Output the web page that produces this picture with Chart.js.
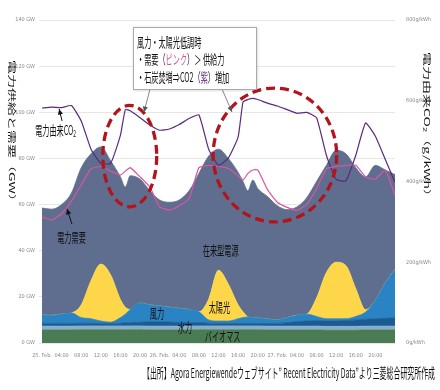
<!DOCTYPE html>
<html>
<head>
<meta charset="utf-8">
<script src="https://cdn.jsdelivr.net/npm/chart.js@4.4.0/dist/chart.umd.min.js"></script>
<style>
html,body{margin:0;padding:0;background:#fff;}
canvas{display:block;}
</style>
</head>
<body>
<canvas id="grafica" width="440" height="390"></canvas>
<script>
// horas desde 25. Feb. 00:00
const horas = [0,2,4,6,8,10,12,14,16,17,18,20,22,24,26,28,30,32,34,36,38,40,41,42,43,44,46,48,50,52,54,56,58,60,62,64,66,68,70,72];

// GW
const biomasa = [5.6,5.6,5.6,5.6,5.7,5.7,5.7,5.7,5.7,5.7,5.7,5.7,5.6,5.6,5.6,5.6,5.6,5.7,5.7,5.7,5.7,5.7,5.7,5.7,5.7,5.7,5.6,5.6,5.6,5.6,5.6,5.6,5.5,5.5,5.5,5.5,5.6,5.6,5.6,5.6];
const hidro = [1.7,1.7,1.7,1.7,1.7,1.7,1.7,1.7,1.7,1.7,1.7,1.7,1.7,1.7,1.7,1.7,1.7,1.7,1.7,1.7,1.7,1.7,1.7,1.7,1.7,1.7,1.7,1.7,1.7,1.7,1.7,1.7,1.7,1.7,1.7,1.7,1.7,1.7,1.7,1.7];
const eolicoMar = [1.2,1.2,1.2,1.2,1.2,1.2,1.1,1.1,1.2,1.3,1.4,1.6,1.8,1.8,1.8,1.6,1.5,1.4,1.2,1.1,1.1,1.1,1.1,1.1,1.1,1.1,1.1,1.2,1.5,2.0,2.2,2.4,2.4,2.4,2.5,2.8,3.0,3.2,3.4,3.5];
const eolico = [3.6,3.5,4.0,4.5,2.4,1.9,1.0,0.5,2.4,3.8,5.7,8.3,7.4,6.9,6.4,6.1,5.7,4.7,1.4,1.0,1.0,2.0,2.5,2.8,2.5,2.3,2.0,1.5,2.2,2.7,3.0,1.8,0.9,0.9,0.8,1.5,3.1,8.1,15.3,21.2];
const solar = [0,0,0,0,5.5,16.5,24.7,20.5,7.8,3,0,0,0,0,0,0,0,0,9,22,16,6,2.5,0,0,0,0,0,0,0,0,8,20,24.5,23,12,1,0,0,0];
const convencional = [46.4,46,47.5,52,59.5,55,50.8,49.5,53.2,52.1,58,53.7,49.5,46,45.5,47,51.5,60,62,52.5,54.5,57.5,56.5,54.7,59.6,56.2,53.1,49.5,46.8,47,50.5,50.5,46.5,48.5,48.5,52.5,57.6,58.4,49,41];
const demanda = [54.6,53.3,56,61.5,68.5,75.5,76.5,74.5,72.8,74.5,76,72,67.6,59,57.6,59.5,62.5,76,77,76.5,75.7,72.5,70.6,73.5,75,75,66.5,61,58.8,57.6,60,67,75.5,76.5,77,77,72,71,75,64];
// g/kWh
const co2 = [582,584,583,588,550,480,445,445,515,578,575,558,540,527,530,541,556,565,480,440,458,510,597,603,606,603,594,587,578,569,571,558,465,405,402,465,545,512,455,398];

const etiquetasX = ['25. Feb.','04:00','08:00','12:00','16:00','20:00','26. Feb.','04:00','08:00','12:00','16:00','20:00','27. Feb.','04:00','08:00','12:00','16:00','20:00',''];

const JP = '"Noto Sans CJK JP", "Noto Sans CJK SC", sans-serif';
const NARROW = '"Liberation Sans Narrow", "DejaVu Sans Condensed", "Liberation Sans", sans-serif';
const SX = 0.55;

// etiquetas dentro del grafico (horas, GW)
const etiquetas = [
    {t:'電力需要', h:3.1, gw:46},
    {t:'在来型電源', h:32.8, gw:40.3},
    {t:'太陽光', h:34, gw:15.6},
    {t:'風力', h:22, gw:13},
    {t:'水力', h:27.7, gw:6.9},
    {t:'バイオマス', h:33.2, gw:3}
];
const elipses = [
    {h:17.9, gw:81, dh:5.5, dgw:22},
    {h:47.5, gw:81.5, dh:12.6, dgw:29}
];

function texto(ctx, str, x, y, size, color, sx){
    ctx.save();
    ctx.translate(x, y);
    ctx.scale(sx, 1);
    ctx.font = size + 'px ' + JP;
    ctx.fillStyle = color;
    ctx.textBaseline = 'middle';
    ctx.textAlign = 'left';
    ctx.fillText(str, 0, 0);
    const w = ctx.measureText(str).width * sx;
    ctx.restore();
    return w;
}

function flecha(ctx, x1, y1, x2, y2, color, punta){
    ctx.save();
    ctx.strokeStyle = color;
    ctx.lineWidth = 1;
    ctx.beginPath();
    ctx.moveTo(x1, y1);
    ctx.lineTo(x2, y2);
    ctx.stroke();
    const a = Math.atan2(y2 - y1, x2 - x1);
    ctx.fillStyle = punta;
    ctx.beginPath();
    ctx.moveTo(x2, y2);
    ctx.lineTo(x2 - 6*Math.cos(a - 0.45), y2 - 6*Math.sin(a - 0.45));
    ctx.lineTo(x2 - 6*Math.cos(a + 0.45), y2 - 6*Math.sin(a + 0.45));
    ctx.closePath();
    ctx.fill();
    ctx.restore();
}

const anotaciones = {
    id: 'anotaciones',
    afterDatasetsDraw(chart){
        const ctx = chart.ctx;
        const px = h => chart.scales.x.getPixelForValue(h);
        const py = g => chart.scales.y.getPixelForValue(g);

        etiquetas.forEach(e => texto(ctx, e.t, px(e.h), py(e.gw), 13, '#111', SX));

        // 電力由来CO2
        let w = texto(ctx, '電力由来CO', px(-1.4), py(92.3), 13, '#111', SX);
        texto(ctx, '2', px(-1.4) + w, py(92.3) + 4, 9, '#111', SX);
        flecha(ctx, px(4.1), py(96.2), px(3.5), py(101.4), '#111', '#111');
        flecha(ctx, px(6.1), py(51.6), px(5.1), py(58.1), '#111', '#111');

        // elipses punteadas
        ctx.save();
        ctx.strokeStyle = '#b3141c';
        ctx.lineWidth = 3.3;
        ctx.setLineDash([9, 5]);
        elipses.forEach(e => {
            const cx = px(e.h), cy = py(e.gw);
            ctx.beginPath();
            ctx.ellipse(cx, cy, px(e.h + e.dh) - cx, cy - py(e.gw + e.dgw), 0, 0, 2*Math.PI);
            ctx.stroke();
        });
        ctx.restore();

        // caja de comentario
        flecha(ctx, 150, 89, 144, 112, '#888', '#555');
        flecha(ctx, 222, 89, 232, 112, '#888', '#555');
        ctx.save();
        ctx.shadowColor = 'rgba(0,0,0,0.25)';
        ctx.shadowBlur = 3;
        ctx.shadowOffsetX = 1;
        ctx.shadowOffsetY = 1;
        ctx.fillStyle = '#fff';
        ctx.fillRect(133, 27, 123, 62);
        ctx.restore();
        ctx.strokeStyle = '#aaa';
        ctx.lineWidth = 1;
        ctx.strokeRect(133.5, 27.5, 123, 62);

        texto(ctx, '風力・太陽光低調時', 137, 42, 13, '#111', SX);
        let x = 137;
        x += texto(ctx, '・需要（', x, 59, 13, '#111', SX);
        x += texto(ctx, 'ピンク', x, 59, 13, '#d9559f', SX);
        texto(ctx, '）＞ 供給力', x, 59, 13, '#111', SX);
        x = 137;
        x += texto(ctx, '・石炭焚増⇒CO2（', x, 77, 13, '#111', SX);
        x += texto(ctx, '紫', x, 77, 13, '#6b2d8a', SX);
        texto(ctx, '）増加', x, 77, 13, '#111', SX);
    },
    afterDraw(chart){
        const ctx = chart.ctx;
        // titulos de ejes, verticales de arriba hacia abajo
        [['電力供給と需要（GW）', 12, 60], ['電力由来CO₂（g/kWh）', 427, 52]].forEach(([t, x, y]) => {
            ctx.save();
            ctx.translate(x, y);
            ctx.rotate(Math.PI/2);
            ctx.scale(1, SX);
            ctx.font = '14px ' + JP;
            ctx.fillStyle = '#111';
            ctx.textBaseline = 'middle';
            ctx.fillText(t, 0, 0);
            ctx.restore();
        });
        // fuente
        const fuente = '【出所】Agora Energiewendeウェブサイト” Recent Electricity Data”より三菱総合研究所作成';
        ctx.save();
        ctx.font = '13.5px ' + JP;
        const sx = 292 / ctx.measureText(fuente).width;
        ctx.restore();
        texto(ctx, fuente, 143, 373, 13.5, '#111', sx);
    }
};

const puntos = arr => horas.map((h, i) => ({x: h, y: arr[i]}));

function capa(label, arr, color, fill){
    return {
        label: label,
        data: puntos(arr),
        backgroundColor: color,
        borderColor: color,
        borderWidth: 0.8,
        fill: fill,
        pointRadius: 0,
        cubicInterpolationMode: 'monotone',
        stack: 'gen',
        yAxisID: 'y',
        order: 1
    };
}

new Chart(document.getElementById('grafica').getContext('2d'), {
    type: 'line',
    data: {
        datasets: [
            capa('バイオマス', biomasa, '#4b7b52', 'origin'),
            capa('水力', hidro, '#86aecb', '-1'),
            capa('洋上風力', eolicoMar, '#1a5c92', '-1'),
            capa('風力', eolico, '#2a84c4', '-1'),
            capa('太陽光', solar, '#fdd64a', '-1'),
            capa('在来型電源', convencional, '#5f6e8e', '-1'),
            {
                label: '電力需要',
                data: puntos(demanda),
                borderColor: '#d9559f',
                borderWidth: 1.2,
                fill: false,
                pointRadius: 0,
                tension: 0.15,
                stack: 'demanda',
                yAxisID: 'y',
                order: 0
            },
            {
                label: '電力由来CO2',
                data: puntos(co2),
                borderColor: '#5a2a7c',
                borderWidth: 1.2,
                fill: false,
                pointRadius: 0,
                tension: 0.15,
                yAxisID: 'y2',
                order: 0
            }
        ]
    },
    options: {
        responsive: false,
        animation: false,
        devicePixelRatio: 1,
        layout: { padding: { top: 20, left: 0, right: 0, bottom: 0 } },
        plugins: { legend: { display: false }, tooltip: { enabled: false } },
        scales: {
            x: {
                type: 'linear',
                min: 0,
                max: 72,
                afterFit: s => { s.height = 47; },
                grid: { display: false },
                border: { display: false },
                ticks: {
                    stepSize: 4,
                    autoSkip: false,
                    maxRotation: 0,
                    padding: 1,
                    color: '#888',
                    font: { size: 5.5, family: NARROW },
                    callback: v => etiquetasX[v / 4] || ''
                }
            },
            y: {
                position: 'left',
                stacked: true,
                min: 0,
                max: 140,
                afterFit: s => { s.width = 42; },
                grid: { color: '#e6e6e6', tickLength: 3 },
                border: { display: false },
                ticks: {
                    stepSize: 20,
                    padding: 4,
                    color: '#888',
                    font: { size: 5.5, family: NARROW },
                    callback: v => v + ' GW'
                }
            },
            y2: {
                position: 'right',
                min: 0,
                max: 800,
                afterFit: s => { s.width = 45; },
                grid: { display: false },
                border: { display: false },
                ticks: {
                    stepSize: 200,
                    padding: 3,
                    color: '#888',
                    font: { size: 5.5, family: NARROW },
                    callback: v => v + 'g/kWh'
                }
            }
        }
    },
    plugins: [anotaciones]
});
</script>
</body>
</html>
